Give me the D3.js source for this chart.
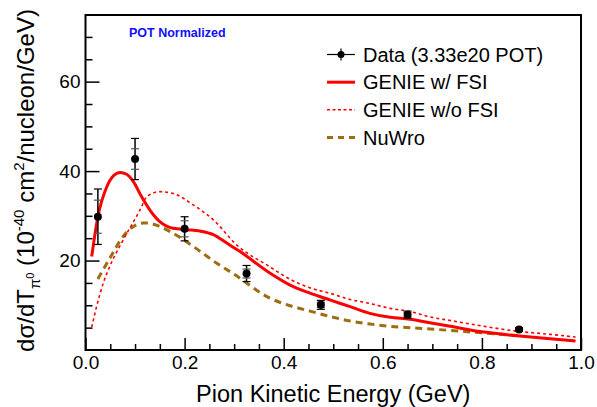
<!DOCTYPE html>
<html>
<head>
<meta charset="utf-8">
<script src="https://cdn.jsdelivr.net/npm/d3@7"></script>
<style>
  body { margin: 0; background: #fff; }
  svg { display: block; font-family: "Liberation Sans", Arial, sans-serif; }
</style>
</head>
<body>
<svg id="chart" width="597" height="407"></svg>
<script>
// data points (bin centres, value, stat and total errors)
var dataX = [0.025, 0.1, 0.2, 0.325, 0.475, 0.65, 0.875];
var dataY = [29.8, 42.7, 27.1, 17.1, 10.1, 7.9, 4.6];
var dataStat = [3.7, 2.3, 1.8, 1.0, 0.6, 0.5, 0.3];
var dataTot = [6.2, 4.6, 2.7, 1.8, 1.0, 0.8, 0.4];

// GENIE w/ FSI
var genieFsiX = [0.0125, 0.025, 0.043, 0.056, 0.07, 0.083, 0.097, 0.113, 0.13, 0.15, 0.177, 0.204, 0.231, 0.258, 0.285, 0.312, 0.372, 0.413, 0.453, 0.493, 0.534, 0.574, 0.615, 0.655, 0.695, 0.736, 0.804, 0.871, 0.938, 0.989];
var genieFsiY = [20.9, 29.8, 36.5, 38.9, 39.7, 39.3, 37.6, 34.3, 31.3, 28.7, 27.2, 26.9, 26.6, 25.8, 23.9, 22.0, 17.2, 14.5, 12.7, 11.2, 9.7, 8.2, 7.3, 6.9, 6.1, 5.3, 4.0, 3.2, 2.5, 2.0];

// GENIE w/o FSI
var genieNoFsiX = [0.0125, 0.0226, 0.036, 0.049, 0.076, 0.110, 0.124, 0.150, 0.177, 0.218, 0.258, 0.305, 0.372, 0.413, 0.453, 0.493, 0.534, 0.574, 0.615, 0.655, 0.695, 0.736, 0.804, 0.871, 0.938, 0.989];
var genieNoFsiY = [5.1, 9.8, 15.0, 18.7, 24.6, 31.3, 34.3, 35.4, 35.0, 32.4, 29.1, 23.5, 18.6, 15.8, 13.9, 12.7, 11.3, 10.4, 9.3, 8.6, 7.4, 6.6, 5.3, 4.2, 3.5, 2.9];

// NuWro
var nuwroX = [0.025, 0.049, 0.076, 0.117, 0.124, 0.150, 0.177, 0.218, 0.265, 0.299, 0.372, 0.413, 0.453, 0.493, 0.534, 0.574, 0.615, 0.655, 0.695, 0.770, 0.837, 0.877];
var nuwroY = [15.9, 20.5, 25.4, 28.4, 28.4, 27.6, 26.1, 23.1, 19.4, 17.0, 11.6, 9.9, 8.7, 7.5, 6.5, 5.8, 5.3, 5.0, 4.7, 4.1, 3.5, 3.2];

var xMajor = [0, 0.2, 0.4, 0.6, 0.8, 1.0];
var yMajor = [20, 40, 60];

var legendLabels = ["Data (3.33e20 POT)", "GENIE w/ FSI", "GENIE w/o FSI", "NuWro"];

var brown = "#9c6e10";

var svg = d3.select("#chart");
svg.append("rect").attr("width", 597).attr("height", 407).attr("fill", "#fff");

var padL = 85.5, padR = 581, padT = 15, padB = 350;

var x = d3.scaleLinear().domain([0, 1]).range([padL, padR]);
var y = d3.scaleLinear().domain([0, 74.9]).range([padB, padT]);

// axes, ticks pointing inward like ROOT
var xMinor = d3.range(0, 1.0001, 0.05).filter(v => Math.abs(v * 5 - Math.round(v * 5)) > 1e-6);
var yMinor = d3.range(5, 75, 5).filter(v => v % 20 !== 0);

var gx = svg.append("g").attr("transform", "translate(0," + padB + ")");
gx.call(d3.axisBottom(x).tickValues(xMajor).tickFormat(d3.format(".1f")).tickSize(-12).tickPadding(6));
gx.append("g").call(d3.axisBottom(x).tickValues(xMinor).tickFormat("").tickSize(-6));

var gy = svg.append("g").attr("transform", "translate(" + padL + ",0)");
gy.call(d3.axisLeft(y).tickValues(yMajor).tickSize(-14).tickPadding(5));
gy.append("g").call(d3.axisLeft(y).tickValues(yMinor).tickFormat("").tickSize(-7));

svg.selectAll(".domain").remove();
svg.selectAll(".tick line").attr("stroke", "#000").attr("stroke-width", 1.5);
svg.selectAll(".tick text").attr("font-size", 19).attr("fill", "#000")
  .attr("font-family", "Liberation Sans, Arial, sans-serif");

// curves
var lineOf = function (xs, ys) {
  return d3.line().x((d, i) => x(xs[i])).y((d, i) => y(ys[i])).curve(d3.curveMonotoneX)(xs);
};

svg.append("path").attr("d", lineOf(nuwroX, nuwroY))
  .attr("fill", "none").attr("stroke", brown).attr("stroke-width", 3).attr("stroke-dasharray", "7,5");
svg.append("path").attr("d", lineOf(genieNoFsiX, genieNoFsiY))
  .attr("fill", "none").attr("stroke", "#ff0000").attr("stroke-width", 1.6).attr("stroke-dasharray", "3,3");
svg.append("path").attr("d", lineOf(genieFsiX, genieFsiY))
  .attr("fill", "none").attr("stroke", "#ff0000").attr("stroke-width", 3);

// data points with stat + total error bars
var pts = svg.append("g").selectAll("g").data(dataX).enter().append("g");
pts.append("line")
  .attr("x1", (d) => x(d)).attr("x2", (d) => x(d))
  .attr("y1", (d, i) => y(dataY[i] + dataTot[i])).attr("y2", (d, i) => y(dataY[i] - dataTot[i]))
  .attr("stroke", "#000").attr("stroke-width", 1.5);
[dataTot, dataStat].forEach(function (err, k) {
  [1, -1].forEach(function (s) {
    pts.append("line")
      .attr("x1", (d) => x(d) - 4).attr("x2", (d) => x(d) + 4)
      .attr("y1", (d, i) => y(dataY[i] + s * err[i])).attr("y2", (d, i) => y(dataY[i] + s * err[i]))
      .attr("stroke", k === 0 ? "#000" : "#555").attr("stroke-width", 1.2);
  });
});
pts.append("circle")
  .attr("cx", (d) => x(d)).attr("cy", (d, i) => y(dataY[i]))
  .attr("r", 4).attr("fill", "#000");

// frame
svg.append("rect").attr("x", padL).attr("y", padT).attr("width", padR - padL).attr("height", padB - padT)
  .attr("fill", "none").attr("stroke", "#000").attr("stroke-width", 2);

// label
svg.append("text").attr("x", 129).attr("y", 36.5)
  .attr("font-size", 12.5).attr("font-weight", "bold").attr("fill", "#1010ff")
  .text("POT Normalized");

// legend
var legend = svg.append("g");
var rowY = [54.5, 82.2, 109.8, 137.4];
legendLabels.forEach(function (lab, i) {
  var yy = rowY[i];
  var ln = legend.append("line").attr("x1", 327).attr("x2", 355).attr("y1", yy).attr("y2", yy);
  if (i === 0) {
    ln.attr("stroke", "#000").attr("stroke-width", 1.2);
    legend.append("line").attr("x1", 341).attr("x2", 341).attr("y1", yy - 6).attr("y2", yy + 6)
      .attr("stroke", "#000").attr("stroke-width", 1.2);
    legend.append("circle").attr("cx", 341).attr("cy", yy).attr("r", 3.5).attr("fill", "#000");
  } else if (i === 1) {
    ln.attr("stroke", "#ff0000").attr("stroke-width", 3);
  } else if (i === 2) {
    ln.attr("stroke", "#ff0000").attr("stroke-width", 1.6).attr("stroke-dasharray", "3,2.5");
  } else {
    ln.attr("stroke", brown).attr("stroke-width", 3).attr("stroke-dasharray", "6,5");
  }
  legend.append("text").attr("x", 363).attr("y", yy + 7.2)
    .attr("font-size", 20).attr("fill", "#000").text(lab);
});

// axis titles
svg.append("text").attr("x", (padL + padR) / 2).attr("y", 402)
  .attr("text-anchor", "middle").attr("font-size", 23.5).attr("fill", "#000")
  .text("Pion Kinetic Energy (GeV)");

var yt = svg.append("text")
  .attr("transform", "translate(34," + ((padT + padB) / 2 - 2) + ") rotate(-90)")
  .attr("text-anchor", "middle").attr("font-size", 24).attr("fill", "#000");
yt.append("tspan").text("dσ/dT");
yt.append("tspan").attr("font-size", 15).attr("dy", 6).text("π");
yt.append("tspan").attr("font-size", 11).attr("dy", -6).text("0");
yt.append("tspan").attr("dy", 0).text(" (10");
yt.append("tspan").attr("font-size", 15).attr("dy", -10).text("-40");
yt.append("tspan").attr("dy", 10).text(" cm");
yt.append("tspan").attr("font-size", 15).attr("dy", -10).text("2");
yt.append("tspan").attr("dy", 10).text("/nucleon/GeV)");
</script>
</body>
</html>
